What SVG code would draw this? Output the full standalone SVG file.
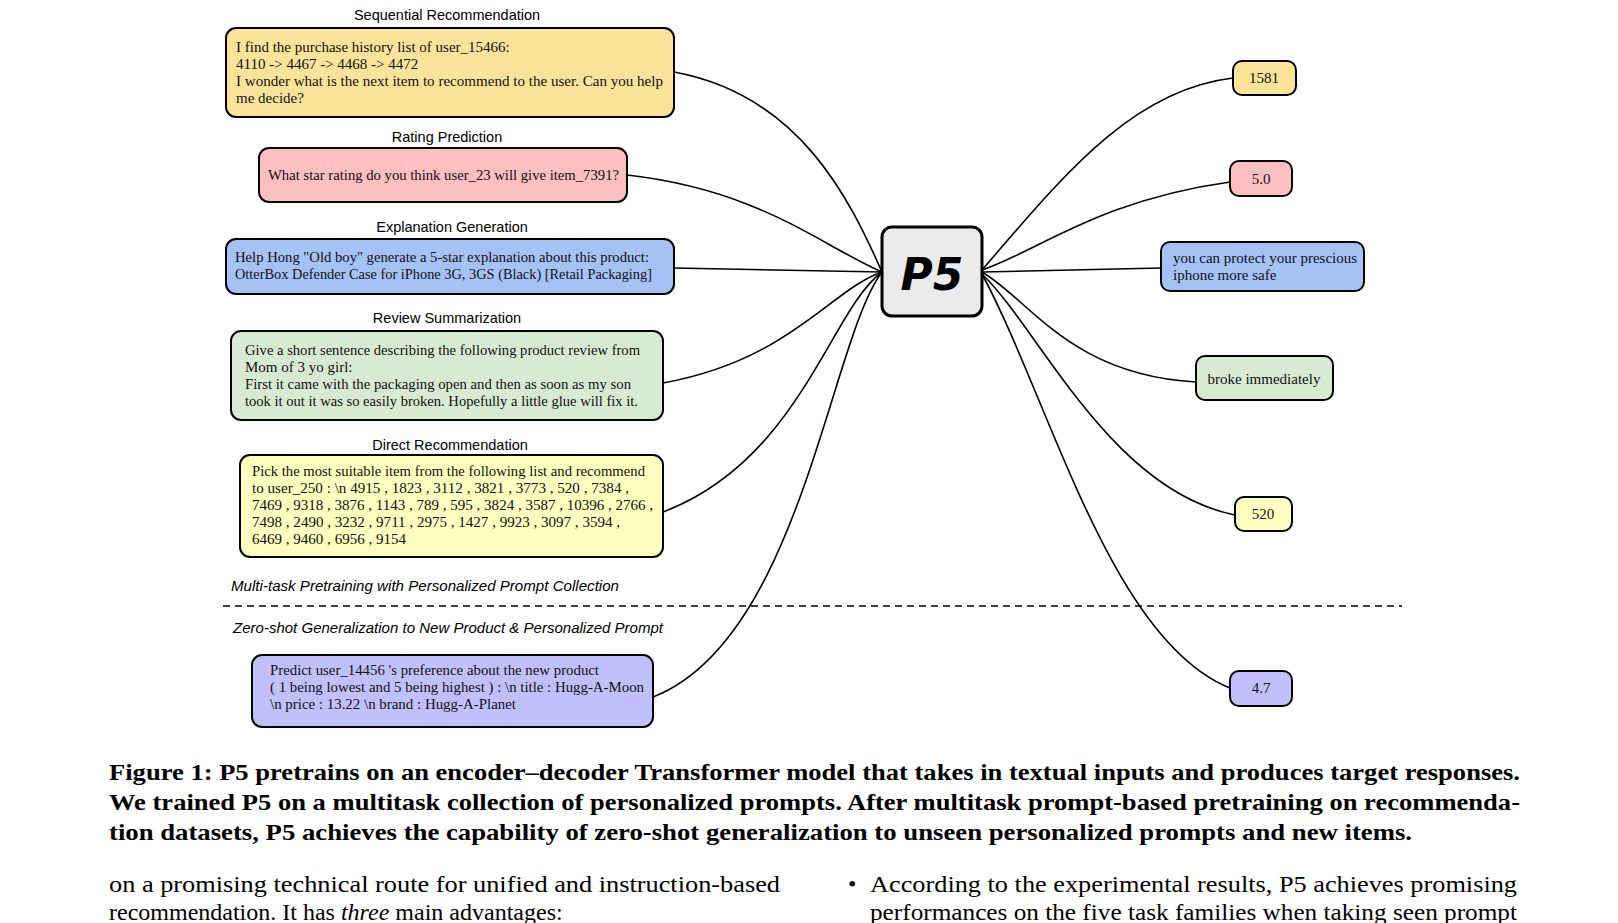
<svg xmlns="http://www.w3.org/2000/svg" width="1618" height="923" viewBox="0 0 1618 923">
<style>
.box{stroke:#000;stroke-width:2}
.t{font-family:"Liberation Serif",serif;font-size:15px;fill:#111}
.h{font-family:"Liberation Sans",Arial,sans-serif;font-size:14.5px;fill:#000;text-anchor:middle}
.i{font-family:"Liberation Sans",Arial,sans-serif;font-size:14px;font-style:italic;fill:#000}
.c{font-family:"Liberation Serif",serif;font-size:23px;font-weight:bold;fill:#000}
.b{font-family:"Liberation Serif",serif;font-size:24px;fill:#000}
.e{fill:none;stroke:#000;stroke-width:1.6}
.m{text-anchor:middle}
</style>
<rect width="1618" height="923" fill="#fff"/>
<g id="connectors">
<path class="e" d="M674,72 C800,95 850,200 882,272"/>
<path class="e" d="M627,175 C760,190 820,245 882,272"/>
<path class="e" d="M674,268 L882,272"/>
<path class="e" d="M663,383 C790,360 830,290 882,272"/>
<path class="e" d="M663,512 C800,460 830,310 882,272"/>
<path class="e" d="M653,697 C800,640 830,340 882,272"/>
<path class="e" d="M982,270 C1060,180 1130,90 1233,78"/>
<path class="e" d="M982,270 C1040,250 1100,200 1230,182"/>
<path class="e" d="M982,272 L1161,268"/>
<path class="e" d="M982,272 C1030,300 1070,375 1196,382"/>
<path class="e" d="M982,274 C1040,330 1110,490 1235,515"/>
<path class="e" d="M982,274 C1050,400 1110,640 1230,688"/>
<line x1="223" y1="606" x2="1402" y2="606" stroke="#000" stroke-width="1.3" stroke-dasharray="7,5"/>
</g>
<g id="seq">
<text class="h" x="447" y="20">Sequential Recommendation</text>
<rect class="box" x="226" y="28" width="448" height="89" rx="10" fill="#fce39a"/>
<text class="t" x="236" y="52">I find the purchase history list of user_15466:</text>
<text class="t" x="236" y="69">4110 -&gt; 4467 -&gt; 4468 -&gt; 4472</text>
<text class="t" x="236" y="86" textLength="427" lengthAdjust="spacingAndGlyphs">I wonder what is the next item to recommend to the user.  Can you help</text>
<text class="t" x="236" y="103">me decide?</text>
</g>
<g id="rating">
<text class="h" x="447" y="142">Rating Prediction</text>
<rect class="box" x="259" y="148" width="368" height="54" rx="10" fill="#fdbfbf"/>
<text class="t" x="268" y="180" textLength="351" lengthAdjust="spacingAndGlyphs">What star rating do you think user_23 will give item_7391?</text>
</g>
<g id="expl">
<text class="h" x="452" y="232">Explanation Generation</text>
<rect class="box" x="226" y="239" width="448" height="55" rx="10" fill="#a4c2f4"/>
<text class="t" x="235" y="262" textLength="414" lengthAdjust="spacingAndGlyphs">Help Hong "Old boy" generate a 5-star explanation about this product:</text>
<text class="t" x="235" y="279" textLength="417" lengthAdjust="spacingAndGlyphs">OtterBox Defender Case for iPhone 3G, 3GS (Black) [Retail Packaging]</text>
</g>
<g id="review">
<text class="h" x="447" y="323">Review Summarization</text>
<rect class="box" x="231" y="331" width="432" height="89" rx="10" fill="#d9ead3"/>
<text class="t" x="245" y="355" textLength="395" lengthAdjust="spacingAndGlyphs">Give a short sentence describing the following product review from</text>
<text class="t" x="245" y="372">Mom of 3 yo girl:</text>
<text class="t" x="245" y="389" textLength="386" lengthAdjust="spacingAndGlyphs">First it came with the packaging open and then as soon as my son</text>
<text class="t" x="245" y="406" textLength="393" lengthAdjust="spacingAndGlyphs">took it out it was so easily broken. Hopefully a little glue will fix it.</text>
</g>
<g id="direct">
<text class="h" x="450" y="450">Direct Recommendation</text>
<rect class="box" x="240" y="455" width="423" height="102" rx="10" fill="#ffffc0"/>
<text class="t" x="252" y="476" textLength="393" lengthAdjust="spacingAndGlyphs">Pick the most suitable item from the following list and recommend</text>
<text class="t" x="252" y="493" textLength="377" lengthAdjust="spacingAndGlyphs">to user_250 : \n 4915 , 1823 , 3112 , 3821 , 3773 , 520 , 7384 ,</text>
<text class="t" x="252" y="510" textLength="401" lengthAdjust="spacingAndGlyphs">7469 , 9318 , 3876 , 1143 , 789 , 595 , 3824 , 3587 , 10396 , 2766 ,</text>
<text class="t" x="252" y="527" textLength="368" lengthAdjust="spacingAndGlyphs">7498 , 2490 , 3232 , 9711 , 2975 , 1427 , 9923 , 3097 , 3594 ,</text>
<text class="t" x="252" y="544" textLength="154" lengthAdjust="spacingAndGlyphs">6469 , 9460 , 6956 , 9154</text>
</g>
<g id="labels">
<text class="i" x="231" y="591" textLength="388" lengthAdjust="spacingAndGlyphs">Multi-task Pretraining with Personalized Prompt Collection</text>
<text class="i" x="233" y="633" textLength="430" lengthAdjust="spacingAndGlyphs">Zero-shot Generalization to New Product &amp; Personalized Prompt</text>
</g>
<g id="predict">
<rect class="box" x="252" y="655" width="401" height="72" rx="10" fill="#c0c0fc"/>
<text class="t" x="270" y="675" textLength="329" lengthAdjust="spacingAndGlyphs">Predict user_14456 's preference about the new product</text>
<text class="t" x="270" y="692" textLength="374" lengthAdjust="spacingAndGlyphs">( 1 being lowest and 5 being highest ) : \n title : Hugg-A-Moon</text>
<text class="t" x="270" y="709" textLength="246" lengthAdjust="spacingAndGlyphs">\n price : 13.22 \n brand : Hugg-A-Planet</text>
</g>
<g id="p5">
<rect x="882" y="227" width="100" height="89" rx="10" fill="#ebebeb" stroke="#000" stroke-width="3"/>
<text x="932" y="290" text-anchor="middle" font-family="DejaVu Sans,sans-serif" font-size="44" font-weight="bold" font-style="italic">P5</text>
</g>
<g id="o1581"><rect class="box" x="1233" y="61" width="63" height="34" rx="9" fill="#fce39a"/><text class="t m" x="1264" y="83">1581</text></g>
<g id="o50"><rect class="box" x="1230" y="161" width="62" height="35" rx="9" fill="#fdbfbf"/><text class="t m" x="1261" y="184">5.0</text></g>
<g id="oexpl"><rect class="box" x="1161" y="242" width="203" height="49" rx="9" fill="#a4c2f4"/><text class="t" x="1173" y="263">you can protect your prescious</text><text class="t" x="1173" y="280">iphone more safe</text></g>
<g id="obroke"><rect class="box" x="1196" y="356" width="137" height="44" rx="9" fill="#d9ead3"/><text class="t m" x="1264" y="384">broke immediately</text></g>
<g id="o520"><rect class="box" x="1235" y="497" width="57" height="34" rx="9" fill="#ffffc0"/><text class="t m" x="1263" y="519">520</text></g>
<g id="o47"><rect class="box" x="1230" y="671" width="62" height="35" rx="9" fill="#c0c0fc"/><text class="t m" x="1261" y="693">4.7</text></g>
<g id="caption">
<text class="c" x="109" y="780" textLength="1411" lengthAdjust="spacingAndGlyphs">Figure 1: P5 pretrains on an encoder–decoder Transformer model that takes in textual inputs and produces target responses.</text>
<text class="c" x="109" y="810" textLength="1411" lengthAdjust="spacingAndGlyphs">We trained P5 on a multitask collection of personalized prompts. After multitask prompt-based pretraining on recommenda-</text>
<text class="c" x="109" y="840" textLength="1303" lengthAdjust="spacingAndGlyphs">tion datasets, P5 achieves the capability of zero-shot generalization to unseen personalized prompts and new items.</text>
<text class="b" x="109" y="892" textLength="671" lengthAdjust="spacingAndGlyphs">on a promising technical route for unified and instruction-based</text>
<text class="b" x="109" y="920">recommendation. It has <tspan font-style="italic">three</tspan> main advantages:</text>
<text class="b" x="848" y="892">•</text>
<text class="b" x="870" y="892" textLength="647" lengthAdjust="spacingAndGlyphs">According to the experimental results, P5 achieves promising</text>
<text class="b" x="870" y="920" textLength="647" lengthAdjust="spacingAndGlyphs">performances on the five task families when taking seen prompt</text>
</g>
</svg>
